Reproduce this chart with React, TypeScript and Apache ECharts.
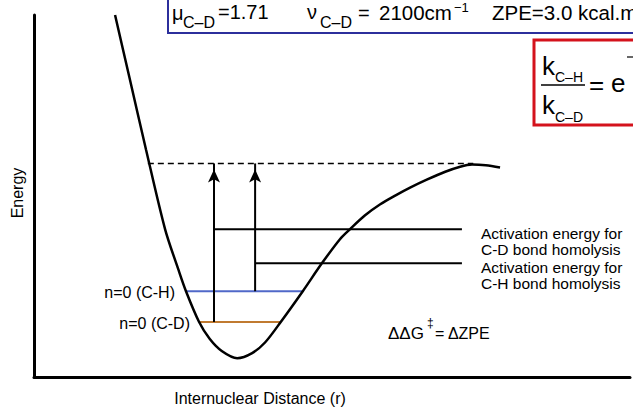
import React, { useEffect, useRef } from 'react';
import * as echarts from 'echarts';

// Potential energy curve (r, energy) (arbitrary units 0-100)
const curveR = [13.6, 16.1, 18.8, 22.0, 24.2, 25.5, 27.7, 29.5, 31.5, 34.1, 36.6, 38.8, 41.4, 45.1, 48.3, 51.3, 53.0, 55.5, 58.1, 60.6, 63.1, 65.9, 69.0, 71.5, 73.5, 75.8, 78.2];
const curveE = [100, 82.1, 62.8, 40.8, 29.8, 23.7, 15.2, 10.5, 7.2, 5.2, 6.6, 9.6, 15.2, 23.7, 31.4, 38.0, 40.8, 44.6, 47.7, 50.1, 52.3, 54.5, 56.7, 58.1, 58.7, 58.5, 57.9];

// Zero-point levels
const levelNames = ['n=0 (C-H)', 'n=0 (C-D)'];
const levelEnergy = [23.7, 15.2];
const levelStart = [25.5, 27.7];
const levelEnd = [45.1, 41.4];
const levelColors = ['#5068c8', '#c07a30'];

// Dissociation level (dashed)
const dissociationEnergy = 59;
const dissociationStart = 19.1;
const dissociationEnd = 73.7;

// Activation arrows: C-D starts from its n=0 level, C-H from its own
const arrowR = [30.2, 37.1];
const arrowFrom = [15.2, 23.7];

// Activation lines
const activationEnergy = [40.8, 31.4];
const activationStart = [30.2, 37.1];
const activationEnd = [71.8, 71.8];
const activationLabels = [
  'Activation energy for\nC-D bond homolysis',
  'Activation energy for\nC-H bond homolysis',
];

const FONT = 'Liberation Sans, Arial, Helvetica, sans-serif';

function txt(text: string, x: number, y: number, size: number, align = 'left', extra: any = {}) {
  const { style: extraStyle, ...rest } = extra;
  return {
    type: 'text',
    x,
    y,
    silent: true,
    ...rest,
    style: {
      text,
      fontSize: size,
      fontFamily: FONT,
      fill: '#000',
      align,
      verticalAlign: 'middle',
      ...(extraStyle || {}),
    },
  };
}

export default function App() {
  const ref = useRef<HTMLDivElement>(null);
  useEffect(() => {
    const chart = echarts.init(ref.current!, null, { renderer: 'svg' });
    const seg = (x1: number, y1: number, x2: number, y2: number, color: string, width: number, type: any = 'solid') => ({
      type: 'line',
      data: [[x1, y1], [x2, y2]],
      symbol: 'none',
      silent: true,
      lineStyle: { color, width, type },
      z: 2,
    });
    const series: any[] = [
      {
        type: 'line',
        data: curveR.map((r, i) => [r, curveE[i]]),
        smooth: 0.3,
        symbol: 'none',
        silent: true,
        lineStyle: { color: '#000', width: 2.5 },
        z: 3,
      },
      seg(dissociationStart, dissociationEnergy, dissociationEnd, dissociationEnergy, '#000', 1.5, [6, 4]),
      ...levelEnergy.map((e, i) => seg(levelStart[i], e, levelEnd[i], e, levelColors[i], 2)),
      ...activationEnergy.map((e, i) => seg(activationStart[i], e, activationEnd[i], e, '#000', 2)),
      ...arrowR.map((r, i) => ({
        type: 'line',
        data: [[r, arrowFrom[i]], [r, dissociationEnergy]],
        silent: true,
        showSymbol: true,
        symbol: (_v: any, p: any) => (p.dataIndex === 1 ? 'arrow' : 'none'),
        symbolSize: [9, 13],
        symbolOffset: [0, 6],
        itemStyle: { color: '#000' },
        lineStyle: { color: '#000', width: 2 },
        z: 4,
      })),
    ];

    const graphic: any[] = [
      // axis titles
      txt('Energy', 17, 193, 16, 'center', { rotation: Math.PI / 2 }),
      txt('Internuclear Distance (r)', 260, 398, 16, 'center'),
      // level labels
      txt(levelNames[0], 175, 292, 16, 'right'),
      txt(levelNames[1], 190, 323, 16, 'right'),
      // activation labels
      ...activationLabels.map((t, i) =>
        txt(t, 481, 225 + i * 34, 15.5, 'left', { style: { verticalAlign: 'top', lineHeight: 16 } })
      ),
      // ΔΔG‡ = ΔZPE
      txt('ΔΔG', 388, 333, 17, 'left'),
      txt('‡', 427, 323, 12, 'left'),
      txt('= ΔZPE', 435, 333, 16, 'left'),
      // top blue box
      {
        type: 'rect',
        silent: true,
        shape: { x: 168, y: -10, width: 600, height: 43 },
        style: { fill: 'none', stroke: '#2c2f9c', lineWidth: 2 },
      },
      txt('μ', 172, 13, 20, 'left'),
      txt('C–D', 183, 22, 16, 'left'),
      txt('=1.71', 218, 12, 20, 'left'),
      txt('ν', 307, 12, 20, 'left'),
      txt('C–D', 320, 22, 16, 'left'),
      txt('=', 358, 13, 20, 'left'),
      txt('2100cm', 379, 12, 20.5, 'left'),
      txt('−1', 454, 7, 13, 'left'),
      txt('ZPE=3.0 kcal.mol', 492, 12, 20.5, 'left'),
      // red box
      {
        type: 'rect',
        silent: true,
        shape: { x: 534, y: 40, width: 200, height: 85 },
        style: { fill: 'none', stroke: '#d4121c', lineWidth: 3 },
      },
      txt('k', 542, 66, 26, 'left'),
      txt('C–H', 555, 77, 14, 'left'),
      {
        type: 'line',
        silent: true,
        shape: { x1: 541, y1: 85, x2: 585, y2: 85 },
        style: { stroke: '#000', lineWidth: 1.5 },
      },
      txt('k', 542, 105, 26, 'left'),
      txt('C–D', 555, 117, 14, 'left'),
      txt('=', 589, 85, 26, 'left'),
      txt('e', 611, 83, 26, 'left'),
      {
        type: 'line',
        silent: true,
        shape: { x1: 627, y1: 57, x2: 633, y2: 57 },
        style: { stroke: '#000', lineWidth: 1.2 },
      },
    ];

    chart.setOption({
      animation: false,
      grid: { left: 34, right: 3, top: 15, bottom: 31 },
      xAxis: {
        type: 'value',
        min: 0,
        max: 100,
        axisLine: { show: true, lineStyle: { color: '#000', width: 3 } },
        axisTick: { show: false },
        axisLabel: { show: false },
        splitLine: { show: false },
      },
      yAxis: {
        type: 'value',
        min: 0,
        max: 100,
        axisLine: { show: true, lineStyle: { color: '#000', width: 3 } },
        axisTick: { show: false },
        axisLabel: { show: false },
        splitLine: { show: false },
      },
      series,
      graphic,
    });
    return () => chart.dispose();
  }, []);
  return (
    <div
      ref={ref}
      style={{ position: 'fixed', left: 0, top: 0, width: 633, height: 408, background: '#fff' }}
    />
  );
}
